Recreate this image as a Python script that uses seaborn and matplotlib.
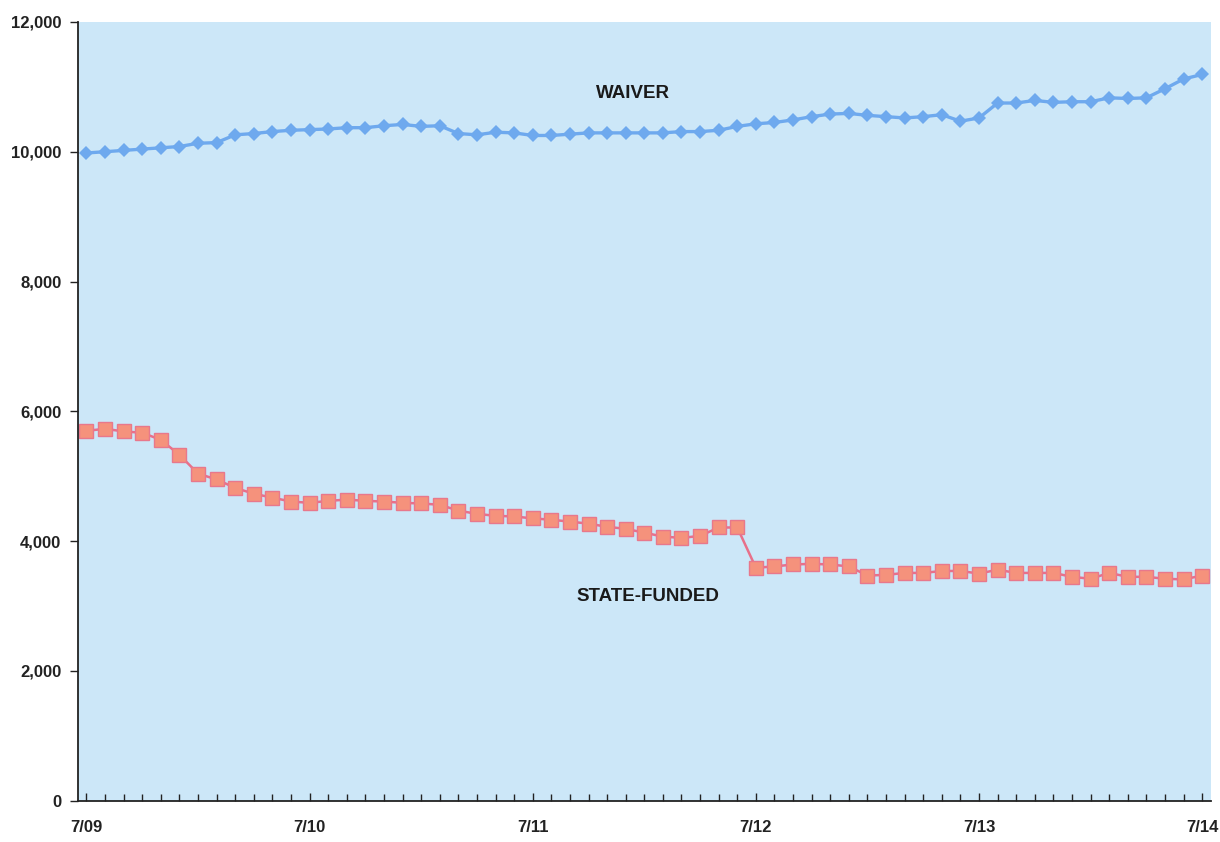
import matplotlib
matplotlib.use("Agg")
import matplotlib.pyplot as plt
from matplotlib.ticker import FuncFormatter, MultipleLocator
import numpy as np
import pandas as pd
import seaborn as sns

# Monthly enrollment, July 2009 through July 2014 (61 months)
waiver = [
    9980, 10000, 10020, 10040, 10060, 10080, 10130, 10140, 10260, 10280,
    10310, 10330, 10340, 10350, 10370, 10370, 10400, 10420, 10390, 10400,
    10280, 10260, 10300, 10290, 10250, 10250, 10270, 10290, 10290, 10290,
    10290, 10290, 10310, 10310, 10330, 10390, 10430, 10450, 10490, 10540,
    10580, 10590, 10560, 10540, 10520, 10540, 10570, 10470, 10520, 10750,
    10750, 10790, 10760, 10770, 10770, 10830, 10820, 10830, 10970, 11120,
    11190,
]
state_funded = [
    5700, 5730, 5690, 5670, 5560, 5330, 5040, 4950, 4820, 4730,
    4670, 4610, 4590, 4620, 4640, 4620, 4610, 4590, 4580, 4560,
    4470, 4420, 4390, 4380, 4350, 4330, 4300, 4270, 4220, 4190,
    4130, 4070, 4050, 4080, 4210, 4210, 3590, 3610, 3640, 3650,
    3640, 3610, 3470, 3480, 3510, 3510, 3540, 3540, 3500, 3560,
    3510, 3510, 3510, 3450, 3420, 3510, 3450, 3450, 3420, 3410,
    3470,
]
year_labels = ["7/09", "7/10", "7/11", "7/12", "7/13", "7/14"]
y_ticks = [0, 2000, 4000, 6000, 8000, 10000, 12000]

months = np.arange(len(waiver))
df = pd.DataFrame({
    "month": np.concatenate([months, months]),
    "count": waiver + state_funded,
    "program": ["WAIVER"] * len(waiver) + ["STATE-FUNDED"] * len(state_funded),
})

sns.set_style("ticks")
plt.rcParams["font.family"] = ["Liberation Sans", "DejaVu Sans"]

fig = plt.figure(figsize=(12.2, 8.42), dpi=100)
ax = fig.add_axes([0.064, 0.049, 0.929, 0.925])
ax.set_facecolor("#cce7f8")

# waiver series: blue diamonds
sns.lineplot(data=df[df.program == "WAIVER"], x="month", y="count", ax=ax,
             color="#6ea9ee", linewidth=2.4, marker="D", markersize=7.5,
             markeredgewidth=0, legend=False)
# state-funded series: salmon squares on a pink line
sns.lineplot(data=df[df.program == "STATE-FUNDED"], x="month", y="count", ax=ax,
             color="#e8708a", linewidth=1.8, marker="s", markersize=9.5,
             markerfacecolor="#f5927c", markeredgecolor="#e8788c",
             markeredgewidth=1.0, legend=False)

ax.set_xlim(-0.45, 60.5)
ax.set_ylim(0, 12000)
ax.set_yticks(y_ticks)
ax.yaxis.set_major_formatter(FuncFormatter(lambda v, p: f"{int(v):,}"))
ax.set_xticks(np.arange(0, 61, 12))
ax.set_xticklabels(year_labels)
ax.xaxis.set_minor_locator(MultipleLocator(1))

ax.tick_params(axis="y", direction="out", length=6, width=1, color="#222222",
               labelsize=12, pad=6)
ax.tick_params(axis="x", which="major", direction="in", length=6, width=1,
               color="#222222", labelsize=12, pad=14)
ax.tick_params(axis="x", which="minor", direction="in", length=5, width=1,
               color="#222222")
for lab in ax.get_xticklabels() + ax.get_yticklabels():
    lab.set_fontweight("bold")
    lab.set_color("#222222")

for side in ("top", "right"):
    ax.spines[side].set_visible(False)
for side in ("left", "bottom"):
    ax.spines[side].set_color("#222222")
    ax.spines[side].set_linewidth(1.3)

ax.set_xlabel("")
ax.set_ylabel("")

ax.text(29.4, 10890, "WAIVER", ha="center", va="center", fontsize=13.5,
        fontweight="bold", color="#1a1a1a")
ax.text(30.2, 3150, "STATE-FUNDED", ha="center", va="center", fontsize=13.5,
        fontweight="bold", color="#1a1a1a")

fig.savefig("out.png", dpi=100, facecolor="white")
